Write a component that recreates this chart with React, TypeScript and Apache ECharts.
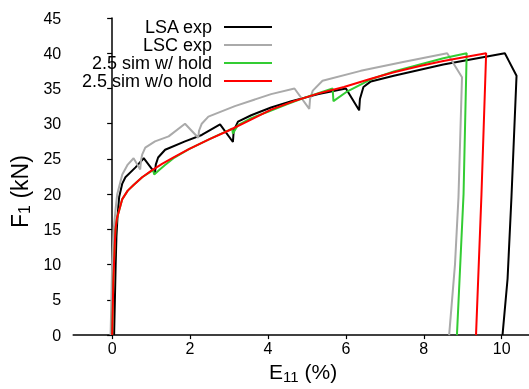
import React, { useEffect, useRef } from 'react';
import * as echarts from 'echarts';

const xTicks = [0, 2, 4, 6, 8, 10];
const yTicks = [0, 5, 10, 15, 20, 25, 30, 35, 40, 45];
const seriesNames = ['LSA exp', 'LSC exp', '2.5 sim w/ hold', '2.5 sim w/o hold'];

const lsaExp: number[][] = [
  [0.05, 0], [0.07, 5], [0.09, 10], [0.11, 14], [0.14, 17], [0.18, 19.6], [0.26, 21.5],
  [0.34, 22.4], [0.6, 23.8], [0.81, 25.1], [1.1, 23.0], [1.12, 24.2], [1.18, 25.2],
  [1.36, 26.3], [1.87, 27.5], [2.3, 28.4], [2.77, 29.9], [3.1, 27.4], [3.12, 29.0],
  [3.23, 30.3], [3.57, 31.2], [4.08, 32.3], [4.6, 33.2], [5.3, 34.2], [6.0, 35.0],
  [6.34, 31.9], [6.36, 33.5], [6.45, 35.2], [6.64, 36.0], [7.23, 36.8], [8.5, 38.4],
  [10.08, 40.0], [10.38, 36.8], [10.25, 19.6], [10.15, 8], [10.02, 0],
];

const lscExp: number[][] = [
  [-0.04, 0], [-0.02, 5], [0.0, 10], [0.04, 15], [0.09, 18], [0.13, 20], [0.26, 22.8],
  [0.4, 24.2], [0.55, 25.1], [0.72, 23.5], [0.74, 24.8], [0.77, 25.6], [0.85, 26.6],
  [1.1, 27.5], [1.45, 28.2], [1.87, 30.0], [2.21, 28.0], [2.23, 29.0], [2.3, 30.0],
  [2.47, 31.0], [3.15, 32.5], [4.08, 34.2], [4.68, 35.0], [5.06, 32.1], [5.08, 33.5],
  [5.15, 34.7], [5.4, 36.1], [6.38, 37.5], [7.5, 38.8], [8.6, 40.0], [8.98, 36.6],
  [8.89, 19.6], [8.8, 10], [8.65, 0],
];

const simHold: number[][] = [
  [0, 0], [0.03, 7.5], [0.06, 12], [0.085, 15], [0.12, 16.5], [0.17, 17.5], [0.26, 19.3],
  [0.4, 20.5], [0.55, 21.3], [0.77, 22.4], [1.05, 23.4], [1.08, 22.8], [1.2, 23.4],
  [1.35, 24.1], [1.6, 25.2], [1.97, 26.4], [2.5, 27.8], [3.08, 29.3], [3.1, 28.6],
  [3.23, 29.8], [3.57, 30.8], [4.0, 31.7], [4.5, 32.8], [5.0, 33.8], [5.66, 35.0],
  [5.68, 33.2], [6.04, 34.6], [6.64, 36.3], [7.23, 37.4], [7.9, 38.4], [8.5, 39.3],
  [9.1, 40.0], [9.02, 20], [8.85, 0],
];

const simNoHold: number[][] = [
  [0, 0], [0.03, 7.5], [0.06, 12], [0.085, 15], [0.12, 16.5], [0.17, 17.5], [0.26, 19.3],
  [0.4, 20.5], [0.55, 21.3], [0.77, 22.4], [1.0, 23.3], [1.28, 24.3], [1.6, 25.3],
  [1.97, 26.4], [2.5, 27.8], [2.98, 29.0], [3.5, 30.4], [4.08, 32.0], [4.67, 33.2],
  [5.3, 34.3], [5.95, 35.2], [6.6, 36.3], [7.23, 37.3], [7.9, 38.2], [8.5, 38.9],
  [9.1, 39.5], [9.6, 40.0], [9.48, 20], [9.34, 0],
];

const colors = ['#000000', '#aaaaaa', '#33cc33', '#ff0000'];
const FONT = 'Liberation Sans';

export default function App() {
  const ref = useRef<HTMLDivElement>(null);
  useEffect(() => {
    const chart = echarts.init(ref.current!, null, { renderer: 'svg' });
    const datasets = [lsaExp, lscExp, simHold, simNoHold];
    chart.setOption({
      animation: false,
      textStyle: { fontFamily: FONT },
      grid: { left: 71, top: 18, right: 0, bottom: 49 },
      legend: {
        orient: 'vertical',
        align: 'right',
        right: 256,
        top: 18,
        padding: 0,
        itemGap: 0,
        itemWidth: 48,
        itemHeight: 14,
        data: seriesNames,
        itemStyle: { opacity: 0, borderWidth: 0 },
        textStyle: { fontFamily: FONT, fontSize: 18, color: '#000', lineHeight: 18, padding: [0, 7, 0, 0] },
      },
      xAxis: {
        type: 'value',
        min: -1,
        max: 10.7,
        name: '{m|E}{s|11}{m| (%)}',
        nameLocation: 'middle',
        nameGap: 22,
        nameTextStyle: {
          padding: [0, 0, 0, 4],
          rich: {
            m: { fontFamily: FONT, fontSize: 21, color: '#000', verticalAlign: 'middle' },
            s: { fontFamily: FONT, fontSize: 15, color: '#000', padding: [10, 0, 0, 0], verticalAlign: 'middle' },
          },
        },
        axisLine: { show: true, onZero: false, lineStyle: { color: '#000', width: 1.5 } },
        axisTick: { show: true, customValues: xTicks, length: 4, lineStyle: { color: '#000', width: 1.2 } },
        axisLabel: { customValues: xTicks, margin: 5, fontSize: 16, color: '#000', fontFamily: FONT },
        splitLine: { show: false },
      },
      yAxis: {
        type: 'value',
        min: 0,
        max: 45,
        interval: 5,
        name: '{m|F}{s|1}{m| (kN)}',
        nameLocation: 'middle',
        nameRotate: 90,
        nameGap: 35,
        nameTextStyle: {
          padding: [0, 30, 0, 0],
          rich: {
            m: { fontFamily: FONT, fontSize: 23, color: '#000', verticalAlign: 'middle' },
            s: { fontFamily: FONT, fontSize: 16, color: '#000', padding: [10, 0, 0, 0], verticalAlign: 'middle' },
          },
        },
        axisLine: { show: true, lineStyle: { color: '#000', width: 1.5 } },
        axisTick: { show: true, customValues: yTicks, length: 5, lineStyle: { color: '#000', width: 1.2 } },
        axisLabel: { customValues: yTicks, margin: 12, fontSize: 16, color: '#000', fontFamily: FONT },
        splitLine: { show: false },
      },
      series: datasets.map((d, i) => ({
        name: seriesNames[i],
        type: 'line',
        data: d,
        showSymbol: false,
        symbol: 'none',
        color: colors[i],
        lineStyle: { color: colors[i], width: 2 },
        z: 2 + i,
      })),
    });
    return () => chart.dispose();
  }, []);
  return <div ref={ref} style={{ position: 'fixed', left: 0, top: 0, width: 529, height: 389 }} />;
}
